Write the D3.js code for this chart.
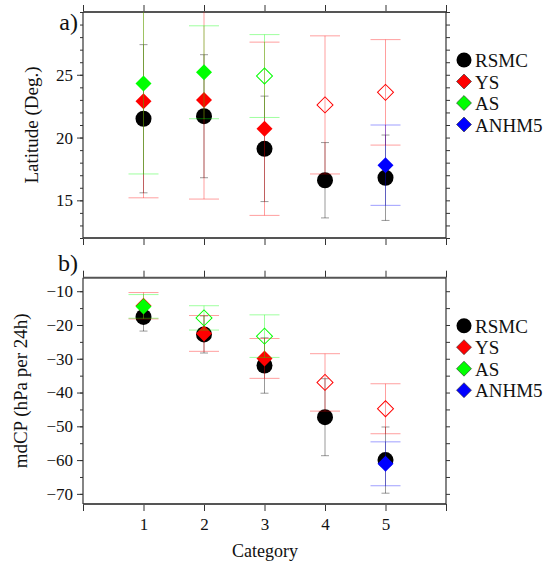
<!DOCTYPE html>
<html>
<head>
<meta charset="utf-8">
<script src="https://cdn.jsdelivr.net/npm/d3@7"></script>
<style>
  body { margin: 0; background: #fff; }
</style>
</head>
<body>
<div id="chart"></div>
<script>
// categories on the x axis
const categories = [1, 2, 3, 4, 5];
const xTicks = [0, 1, 2, 3, 4, 5, 6];

// panel a) latitude (deg.), mean and spread
const latRSMC = [21.5, 21.7, 19.1, 16.6, 16.8];
const latRSMCSd = [5.9, 4.9, 4.2, 3.0, 3.4];
const latYS = [22.9, 23.0, 20.7, 22.6, 23.6];
const latYSSd = [7.7, 7.9, 6.9, 5.5, 4.2];
const latYSFilled = [true, true, true, false, false];
const latAS = [24.3, 25.2, 24.9, null, null];
const latASSd = [7.2, 3.7, 3.3, null, null];
const latASFilled = [true, true, false, null, null];
const latANHM5 = [null, null, null, null, 17.8];
const latANHM5Sd = [null, null, null, null, 3.2];
const latANHM5Filled = [null, null, null, null, true];
const latMajor = [15, 20, 25];
const latMinor = d3.range(12, 31, 1);

// panel b) mdCP (hPa per 24h)
const cpRSMC = [-17.6, -22.8, -32.0, -47.3, -60.0];
const cpRSMCSd = [4.2, 5.5, 8.2, 11.4, 9.8];
const cpYS = [-14.3, -22.5, -29.9, -37.0, -44.8];
const cpYSSd = [3.9, 5.3, 5.9, 8.5, 7.4];
const cpYSFilled = [true, true, true, false, false];
const cpAS = [-14.5, -17.9, -23.3, null, null];
const cpASSd = [3.5, 3.6, 6.3, null, null];
const cpASFilled = [true, false, false, null, null];
const cpANHM5 = [null, null, null, null, -61.1];
const cpANHM5Sd = [null, null, null, null, 6.5];
const cpANHM5Filled = [null, null, null, null, true];
const cpMajor = [-70, -60, -50, -40, -30, -20, -10];
const cpMinor = d3.range(-70, -5, 5);

const legendNames = ["RSMC", "YS", "AS", "ANHM5"];
const colors = { RSMC: "#000", YS: "#ff0000", AS: "#00ff00", ANHM5: "#0000ff" };

const W = 548, H = 564;
const left = 83, right = 446;
const serif = "'Liberation Serif', 'Times New Roman', serif";

var svg = d3.select("#chart").append("svg")
  .attr("width", W).attr("height", H)
  .attr("font-family", serif);

var x = d3.scaleLinear().domain([0, 6]).range([left, right]);

const diamond = d3.symbol().type(d3.symbolSquare).size(128);
const diamondSmall = d3.symbol().type(d3.symbolSquare).size(112);

function makeSeries(rsmc, rsmcSd, ys, ysSd, ysF, as, asSd, asF, an, anSd, anF) {
  const pack = (name, v, s, f) => categories.map((c, i) => ({
    name: name, cat: c, val: v[i], sd: s[i], filled: f ? f[i] : true
  })).filter(d => d.val != null);
  return [
    pack("RSMC", rsmc, rsmcSd, null),
    pack("YS", ys, ysSd, ysF),
    pack("AS", as, asSd, asF),
    pack("ANHM5", an, anSd, anF)
  ];
}

function drawPanel(cfg) {
  var y = d3.scaleLinear().domain(cfg.domain).range([cfg.bottom, cfg.top]);
  var g = svg.append("g");

  // clip for error bars
  svg.append("clipPath").attr("id", cfg.id)
    .append("rect").attr("x", left).attr("y", cfg.top)
    .attr("width", right - left).attr("height", cfg.bottom - cfg.top);

  // axes
  g.append("g").attr("transform", "translate(" + left + ",0)")
    .call(d3.axisLeft(y).tickValues(cfg.minor).tickFormat("").tickSize(3));
  g.append("g").attr("transform", "translate(" + left + ",0)")
    .call(d3.axisLeft(y).tickValues(cfg.major).tickSize(6).tickPadding(4));
  g.append("g").attr("transform", "translate(" + right + ",0)")
    .call(d3.axisRight(y).tickValues(cfg.minor).tickFormat("").tickSize(4));
  g.append("g").attr("transform", "translate(0," + cfg.top + ")")
    .call(d3.axisTop(x).tickValues(xTicks).tickFormat("").tickSize(7));
  g.append("g").attr("transform", "translate(0," + cfg.bottom + ")")
    .call(d3.axisBottom(x).tickValues(xTicks).tickSize(7).tickPadding(7)
      .tickFormat(d => (cfg.xLabels && d >= 1 && d <= 5) ? d : ""));
  g.selectAll(".tick text").attr("font-family", serif).attr("fill", "#111")
    .style("font-size", "17px");
  g.selectAll(".domain").remove();
  g.selectAll(".tick line").attr("stroke", "#333");

  // frame
  g.append("line").attr("x1", left).attr("x2", right).attr("y1", cfg.top).attr("y2", cfg.top)
    .attr("stroke", "#555").attr("stroke-width", 2);
  g.append("line").attr("x1", left).attr("x2", right).attr("y1", cfg.bottom).attr("y2", cfg.bottom)
    .attr("stroke", "#555").attr("stroke-width", 2);
  g.append("line").attr("x1", left).attr("x2", left).attr("y1", cfg.top).attr("y2", cfg.bottom)
    .attr("stroke", "#333").attr("stroke-width", 1.2);
  g.append("line").attr("x1", right).attr("x2", right).attr("y1", cfg.top).attr("y2", cfg.bottom)
    .attr("stroke", "#333").attr("stroke-width", 1.2);

  // series: error bar then marker
  cfg.series.forEach(function (s) {
    if (!s.length) return;
    var name = s[0].name;
    var col = colors[name];
    var cap = name == "RSMC" ? 4 : 15;
    var eb = g.append("g").attr("clip-path", "url(#" + cfg.id + ")")
      .attr("stroke", col).attr("stroke-opacity", name == "RSMC" ? 0.4 : 0.38)
      .attr("stroke-width", 1);
    eb.selectAll("line.v").data(s).enter().append("line")
      .attr("x1", d => x(d.cat)).attr("x2", d => x(d.cat))
      .attr("y1", d => y(d.val - d.sd)).attr("y2", d => y(d.val + d.sd));
    eb.selectAll("line.t").data(s).enter().append("line")
      .attr("x1", d => x(d.cat) - cap).attr("x2", d => x(d.cat) + cap)
      .attr("y1", d => y(d.val + d.sd)).attr("y2", d => y(d.val + d.sd));
    eb.selectAll("line.b").data(s).enter().append("line")
      .attr("x1", d => x(d.cat) - cap).attr("x2", d => x(d.cat) + cap)
      .attr("y1", d => y(d.val - d.sd)).attr("y2", d => y(d.val - d.sd));

    if (name == "RSMC") {
      g.selectAll("circle.rsmc" + cfg.id).data(s).enter().append("circle")
        .attr("cx", d => x(d.cat)).attr("cy", d => y(d.val)).attr("r", 8)
        .attr("fill", "#000");
    } else {
      g.selectAll("path.m" + name + cfg.id).data(s).enter().append("path")
        .attr("d", diamond)
        .attr("transform", d => "translate(" + x(d.cat) + "," + y(d.val) + ") rotate(45)")
        .attr("fill", d => d.filled ? col : "none")
        .attr("stroke", d => d.filled ? "none" : col)
        .attr("stroke-width", 1);
    }
  });

  // legend
  var lg = g.append("g");
  legendNames.forEach(function (n, i) {
    var ly = cfg.top + 48 + i * 21.5;
    if (n == "RSMC") {
      lg.append("circle").attr("cx", 464).attr("cy", ly).attr("r", 7.5).attr("fill", "#000");
    } else {
      lg.append("path").attr("d", diamondSmall)
        .attr("transform", "translate(464," + ly + ") rotate(45)")
        .attr("fill", colors[n]).attr("stroke", "#333").attr("stroke-width", 0.6);
    }
    lg.append("text").attr("x", 475).attr("y", ly + 7)
      .attr("fill", "#111").style("font-size", "19px").text(n);
  });

  // panel label and y title
  g.append("text").attr("x", 78).attr("y", cfg.labelY)
    .attr("text-anchor", "end").attr("fill", "#111").style("font-size", "24px").text(cfg.label);
  g.append("text")
    .attr("transform", "translate(" + cfg.titleX + "," + ((cfg.top + cfg.bottom) / 2) + ") rotate(-90)")
    .attr("text-anchor", "middle").attr("fill", "#111").style("font-size", "19px").text(cfg.title);
}

var sA = makeSeries(latRSMC, latRSMCSd, latYS, latYSSd, latYSFilled,
  latAS, latASSd, latASFilled, latANHM5, latANHM5Sd, latANHM5Filled);
var sB = makeSeries(cpRSMC, cpRSMCSd, cpYS, cpYSSd, cpYSFilled,
  cpAS, cpASSd, cpASFilled, cpANHM5, cpANHM5Sd, cpANHM5Filled);

drawPanel({ id: "clipA", top: 12, bottom: 238, domain: [12, 30], major: latMajor, minor: latMinor,
  series: sA, label: "a)", labelY: 30, title: "Latitude (Deg.)", titleX: 38, xLabels: false });
drawPanel({ id: "clipB", top: 277.7, bottom: 504, domain: [-73, -6], major: cpMajor, minor: cpMinor,
  series: sB, label: "b)", labelY: 271, title: "mdCP (hPa per 24h)", titleX: 27, xLabels: true });

svg.append("text").attr("x", 265).attr("y", 557).attr("text-anchor", "middle")
  .attr("fill", "#111").style("font-size", "18px").text("Category");
</script>
</body>
</html>
